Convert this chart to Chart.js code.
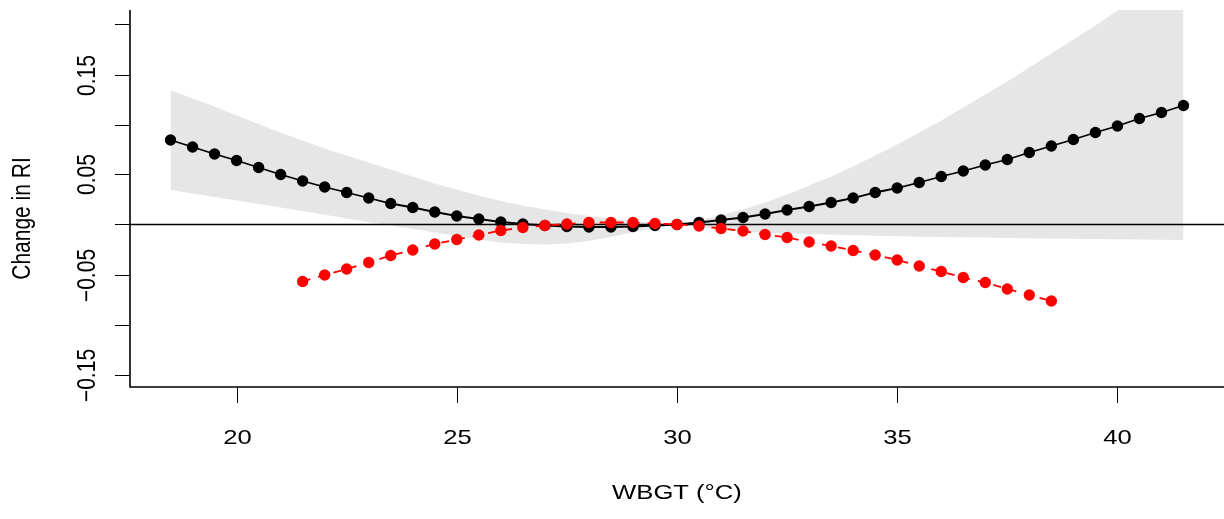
<!DOCTYPE html>
<html>
<head>
<meta charset="utf-8">
<script src="https://cdn.jsdelivr.net/npm/chart.js@4.4.0/dist/chart.umd.min.js"></script>
<style>
  html, body { margin: 0; padding: 0; background: #fff; }
  #wrap { width: 1224px; height: 519px; position: relative; }
</style>
</head>
<body>
<div id="wrap"><canvas id="chart"></canvas></div>
<script>
// WBGT values (x) for the full curve and the band
const wbgt = [18.5, 19, 19.5, 20, 20.5, 21, 21.5, 22, 22.5, 23, 23.5, 24, 24.5, 25, 25.5,
  26, 26.5, 27, 27.5, 28, 28.5, 29, 29.5, 30, 30.5, 31, 31.5, 32, 32.5, 33, 33.5, 34,
  34.5, 35, 35.5, 36, 36.5, 37, 37.5, 38, 38.5, 39, 39.5, 40, 40.5, 41, 41.5];

// black curve: change in RI
const riChange = [0.0845, 0.0775, 0.0705, 0.064, 0.057, 0.050, 0.0435, 0.0375, 0.032, 0.0265,
  0.021, 0.017, 0.0125, 0.0085, 0.0055, 0.0025, 0.0005, -0.001, -0.002, -0.0025, -0.0025,
  -0.002, -0.001, 0, 0.002, 0.0045, 0.007, 0.0105, 0.0145, 0.018, 0.022, 0.0265, 0.032,
  0.0365, 0.042, 0.048, 0.0535, 0.0595, 0.065, 0.072, 0.0785, 0.085, 0.092, 0.0985, 0.106,
  0.112, 0.119];

// confidence band
const bandUpper = [0.1345, 0.126, 0.118, 0.109, 0.1005, 0.092, 0.084, 0.076, 0.069, 0.062,
  0.055, 0.048, 0.041, 0.035, 0.029, 0.0235, 0.019, 0.015, 0.0115, 0.0085, 0.006, 0.0035,
  0.0015, 0, 0.004, 0.0095, 0.015, 0.022, 0.030, 0.039, 0.048, 0.058, 0.069, 0.080, 0.092,
  0.104, 0.117, 0.130, 0.143, 0.157, 0.171, 0.185, 0.199, 0.214, 0.229, 0.244, 0.259];
const bandLower = [0.0345, 0.031, 0.0275, 0.024, 0.0205, 0.017, 0.0135, 0.0098, 0.006, 0.0025,
  -0.001, -0.0045, -0.008, -0.0115, -0.015, -0.018, -0.0195, -0.020, -0.019, -0.0165, -0.0125,
  -0.0078, -0.0035, 0, -0.003, -0.0055, -0.007, -0.008, -0.009, -0.0095, -0.010, -0.0108,
  -0.0113, -0.0118, -0.0122, -0.0125, -0.0128, -0.013, -0.0134, -0.0137, -0.014, -0.0143,
  -0.0145, -0.0148, -0.015, -0.0152, -0.0155];

// red dashed curve
const wbgtRed = [21.5, 22, 22.5, 23, 23.5, 24, 24.5, 25, 25.5, 26, 26.5, 27, 27.5, 28, 28.5,
  29, 29.5, 30, 30.5, 31, 31.5, 32, 32.5, 33, 33.5, 34, 34.5, 35, 35.5, 36, 36.5, 37, 37.5,
  38, 38.5];
const riRed = [-0.057, -0.0505, -0.0445, -0.038, -0.031, -0.0255, -0.0195, -0.015, -0.0105,
  -0.006, -0.003, -0.001, 0.0005, 0.002, 0.002, 0.002, 0.001, 0, -0.0015, -0.004, -0.0065,
  -0.010, -0.013, -0.0175, -0.0215, -0.026, -0.0305, -0.0355, -0.0415, -0.047, -0.053,
  -0.058, -0.0645, -0.0705, -0.0765];

const xTicks = [20, 25, 30, 35, 40];
const yTicks = [-0.15, -0.10, -0.05, 0, 0.05, 0.10, 0.15, 0.20];
const yTickLabels = ['\u22120.15', '', '\u22120.05', '', '0.05', '', '0.15', ''];

const FONT = '21px "Liberation Sans", Arial, Helvetica, sans-serif';
const STRETCH = 1.22; // glyphs in the original are a bit wide

const pts = (xs, ys) => xs.map((v, i) => ({x: v, y: ys[i]}));

function wideText(ctx, txt, x, y, rot) {
  ctx.save();
  ctx.translate(x, y);
  if (rot) {
    ctx.rotate(-Math.PI / 2);
    ctx.scale(1, STRETCH);
  } else {
    ctx.scale(STRETCH, 1);
  }
  ctx.fillText(txt, 0, 0);
  ctx.restore();
}

// R-like axes drawn from the chart scales
const rAxes = {
  id: 'rAxes',
  beforeDatasetDraw(chart, args) {
    if (args.index !== 2) return;
    const {ctx, chartArea: a, scales: {y}} = chart;
    const py = y.getPixelForValue(0);
    ctx.save();
    ctx.strokeStyle = '#000';
    ctx.lineWidth = 1.6;
    ctx.beginPath();
    ctx.moveTo(a.left, py);
    ctx.lineTo(a.right, py);
    ctx.stroke();
    ctx.restore();
  },
  afterDraw(chart) {
    const {ctx, chartArea: a, scales: {x, y}} = chart;
    ctx.save();
    ctx.strokeStyle = '#000';
    ctx.fillStyle = '#000';
    ctx.lineWidth = 1.6;
    ctx.beginPath();
    ctx.moveTo(a.left, a.top);
    ctx.lineTo(a.left, a.bottom);
    ctx.lineTo(a.right, a.bottom);
    ctx.stroke();

    ctx.font = FONT;
    ctx.textAlign = 'center';
    ctx.textBaseline = 'middle';
    ctx.lineWidth = 1;
    xTicks.forEach(v => {
      const px = Math.round(x.getPixelForValue(v)) + 0.5;
      ctx.beginPath();
      ctx.moveTo(px, a.bottom);
      ctx.lineTo(px, a.bottom + 16);
      ctx.stroke();
      wideText(ctx, String(v), px, a.bottom + 51, false);
    });
    wideText(ctx, 'WBGT (\u00B0C)', 677, a.bottom + 106, false);

    yTicks.forEach((v, i) => {
      const py = Math.round(y.getPixelForValue(v)) + 0.5;
      ctx.beginPath();
      ctx.moveTo(a.left, py);
      ctx.lineTo(a.left - 15, py);
      ctx.stroke();
      if (yTickLabels[i]) wideText(ctx, yTickLabels[i], a.left - 42, py, true);
    });
    wideText(ctx, 'Change in RI', 23, (a.top + a.bottom) / 2 + 20, true);
    ctx.restore();
  }
};

new Chart(document.getElementById('chart'), {
  type: 'scatter',
  data: {
    datasets: [
      {
        data: pts(wbgt, bandUpper),
        showLine: true, borderWidth: 0, pointRadius: 0,
        backgroundColor: '#e6e6e6', fill: '+1', order: 4
      },
      {
        data: pts(wbgt, bandLower),
        showLine: true, borderWidth: 0, pointRadius: 0,
        backgroundColor: '#e6e6e6', fill: false, order: 3
      },
      {
        data: pts(wbgt, riChange),
        showLine: true, borderColor: '#000', borderWidth: 1.8,
        pointRadius: 5.7, pointBorderWidth: 0, pointBackgroundColor: '#000', order: 2
      },
      {
        data: pts(wbgtRed, riRed),
        showLine: true, borderColor: '#ff0000', borderWidth: 1.8, borderDash: [8, 8],
        pointRadius: 5.7, pointBorderWidth: 0, pointBackgroundColor: '#ff0000', order: 1
      }
    ]
  },
  options: {
    responsive: true,
    maintainAspectRatio: false,
    animation: false,
    layout: {autoPadding: false, padding: {left: 130, top: 10, right: 0, bottom: 132}},
    plugins: {legend: {display: false}, tooltip: {enabled: false}},
    scales: {
      x: {type: 'linear', min: 17.58, max: 42.42, display: false},
      y: {type: 'linear', min: -0.1625, max: 0.2145, display: false}
    }
  },
  plugins: [rAxes]
});
</script>
</body>
</html>
